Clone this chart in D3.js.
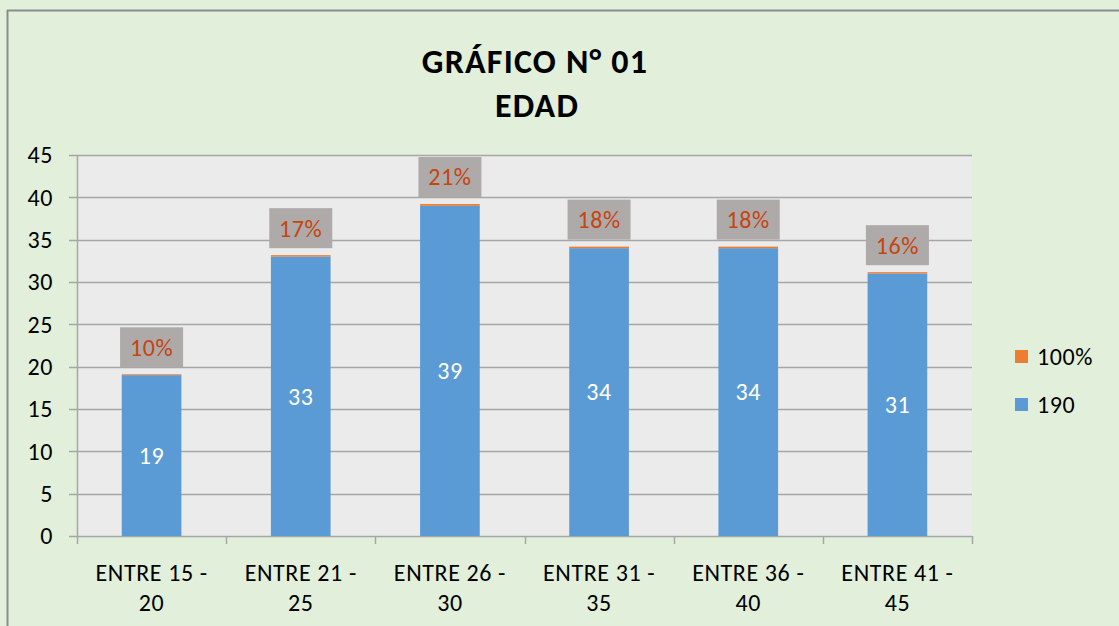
<!DOCTYPE html>
<html>
<head>
<meta charset="utf-8">
<script src="https://cdn.jsdelivr.net/npm/d3@7"></script>
<style>
  body { margin: 0; background: #e2efda; }
  svg { display: block; font-family: Carlito, Calibri, Lato, "Open Sans", sans-serif; }
</style>
</head>
<body>
<script>
const categories = ["ENTRE 15 - 20", "ENTRE 21 - 25", "ENTRE 26 - 30", "ENTRE 31 - 35", "ENTRE 36 - 40", "ENTRE 41 - 45"];
const countValues = [19, 33, 39, 34, 34, 31];
const shareValues = [0.10, 0.17, 0.21, 0.18, 0.18, 0.16];
const seriesNames = ["100%", "190"];
const yTicks = [0, 5, 10, 15, 20, 25, 30, 35, 40, 45];

const W = 1119, H = 626;
const margin = {left: 77, right: 147, top: 155, bottom: 90};
const FS = 24, LS = "0.6px";

var svg = d3.select("body").append("svg")
    .attr("width", W)
    .attr("height", H);

svg.append("rect").attr("width", W).attr("height", H).attr("fill", "#e2efda");
// chart border (left + top visible)
svg.append("line").attr("x1", 7.5).attr("x2", 7.5).attr("y1", 10).attr("y2", H).attr("stroke", "#8c8c8c").attr("stroke-width", 2);
svg.append("line").attr("x1", 7).attr("x2", W).attr("y1", 10.5).attr("y2", 10.5).attr("stroke", "#8c8c8c").attr("stroke-width", 2);

var x = d3.scaleBand()
    .domain(categories)
    .range([margin.left, W - margin.right])
    .paddingInner(0.6)
    .paddingOuter(0.3);

var y = d3.scaleLinear()
    .domain([0, 45])
    .range([H - margin.bottom, margin.top]);

// plot area
svg.append("rect")
    .attr("x", margin.left).attr("y", margin.top)
    .attr("width", W - margin.right - margin.left)
    .attr("height", y(0) - margin.top)
    .attr("fill", "#ebebeb");

// gridlines
svg.append("g").selectAll("line")
    .data(yTicks)
    .enter().append("line")
    .attr("x1", margin.left - 8)
    .attr("x2", W - margin.right)
    .attr("y1", function(d) { return Math.round(y(d)) + 0.5; })
    .attr("y2", function(d) { return Math.round(y(d)) + 0.5; })
    .attr("stroke", "#a6a6a6")
    .attr("stroke-width", 1.5);

// y axis labels
svg.append("g").selectAll("text")
    .data(yTicks)
    .enter().append("text")
    .attr("x", 53)
    .attr("y", function(d) { return y(d); })
    .attr("dy", "0.35em")
    .attr("text-anchor", "end")
    .attr("font-size", FS)
    .attr("letter-spacing", LS)
    .attr("fill", "#000")
    .text(function(d) { return d; });

// y axis line
svg.append("line")
    .attr("x1", margin.left + 0.5).attr("x2", margin.left + 0.5)
    .attr("y1", margin.top).attr("y2", y(0))
    .attr("stroke", "#a6a6a6").attr("stroke-width", 1.5);

// x axis ticks at category boundaries
var bounds = d3.range(categories.length + 1).map(function(i) {
    return margin.left + i * (W - margin.right - margin.left) / categories.length;
});
svg.append("g").selectAll("line")
    .data(bounds)
    .enter().append("line")
    .attr("x1", function(d) { return Math.round(d) + 0.5; })
    .attr("x2", function(d) { return Math.round(d) + 0.5; })
    .attr("y1", y(0))
    .attr("y2", y(0) + 8)
    .attr("stroke", "#a6a6a6")
    .attr("stroke-width", 1.5);

// bars
var bars = svg.append("g").selectAll("g")
    .data(categories)
    .enter().append("g");

bars.append("rect")
    .attr("x", function(d) { return x(d); })
    .attr("width", x.bandwidth())
    .attr("y", function(d, i) { return y(countValues[i]); })
    .attr("height", function(d, i) { return y(0) - y(countValues[i]); })
    .attr("fill", "#5b9bd5");

bars.append("rect")
    .attr("x", function(d) { return x(d); })
    .attr("width", x.bandwidth())
    .attr("y", function(d, i) { return y(countValues[i] + shareValues[i]); })
    .attr("height", function(d, i) { return y(countValues[i]) - y(countValues[i] + shareValues[i]); })
    .attr("fill", "#ed7d31");

bars.append("text")
    .attr("x", function(d) { return x(d) + x.bandwidth() / 2; })
    .attr("y", function(d, i) { return (y(0) + y(countValues[i])) / 2; })
    .attr("dy", "0.35em")
    .attr("text-anchor", "middle")
    .attr("font-size", FS)
    .attr("letter-spacing", LS)
    .attr("fill", "#fff")
    .text(function(d, i) { return countValues[i]; });

// percentage label boxes
bars.append("rect")
    .attr("x", function(d) { return x(d) + x.bandwidth() / 2 - 31.5; })
    .attr("width", 63)
    .attr("y", function(d, i) { return y(countValues[i] + shareValues[i]) - 47; })
    .attr("height", 40)
    .attr("fill", "#aeaaaa");

bars.append("text")
    .attr("x", function(d) { return x(d) + x.bandwidth() / 2; })
    .attr("y", function(d, i) { return y(countValues[i] + shareValues[i]) - 27; })
    .attr("dy", "0.35em")
    .attr("text-anchor", "middle")
    .attr("font-size", FS)
    .attr("letter-spacing", LS)
    .attr("fill", "#c5450f")
    .text(function(d, i) { return Math.round(shareValues[i] * 100) + "%"; });

// category labels, wrapped on two lines
var catLabels = svg.append("g").selectAll("text")
    .data(categories)
    .enter().append("text")
    .attr("text-anchor", "middle")
    .attr("font-size", FS)
    .attr("letter-spacing", LS)
    .attr("fill", "#000");
catLabels.append("tspan")
    .attr("x", function(d) { return x(d) + x.bandwidth() / 2; })
    .attr("y", 581)
    .text(function(d) { return d.slice(0, d.lastIndexOf(" ")); });
catLabels.append("tspan")
    .attr("x", function(d) { return x(d) + x.bandwidth() / 2; })
    .attr("y", 611)
    .text(function(d) { return d.slice(d.lastIndexOf(" ") + 1); });

// title
svg.append("text")
    .attr("x", 535).attr("y", 73)
    .attr("text-anchor", "middle")
    .attr("font-size", 34).attr("font-weight", "bold")
    .attr("letter-spacing", "1.2px")
    .text("GRÁFICO N° 01");
svg.append("text")
    .attr("x", 537).attr("y", 117)
    .attr("text-anchor", "middle")
    .attr("font-size", 34).attr("font-weight", "bold")
    .attr("letter-spacing", "1.2px")
    .text("EDAD");

// legend
var legendColors = ["#ed7d31", "#5b9bd5"];
var legend = svg.append("g").selectAll("g")
    .data(seriesNames)
    .enter().append("g")
    .attr("transform", function(d, i) { return "translate(1015," + (350 + i * 48) + ")"; });
legend.append("rect")
    .attr("width", 13).attr("height", 13)
    .attr("y", 0)
    .attr("fill", function(d, i) { return legendColors[i]; });
legend.append("text")
    .attr("x", 22).attr("y", 7)
    .attr("dy", "0.35em")
    .attr("font-size", FS)
    .attr("letter-spacing", LS)
    .text(function(d) { return d; });
</script>
</body>
</html>
